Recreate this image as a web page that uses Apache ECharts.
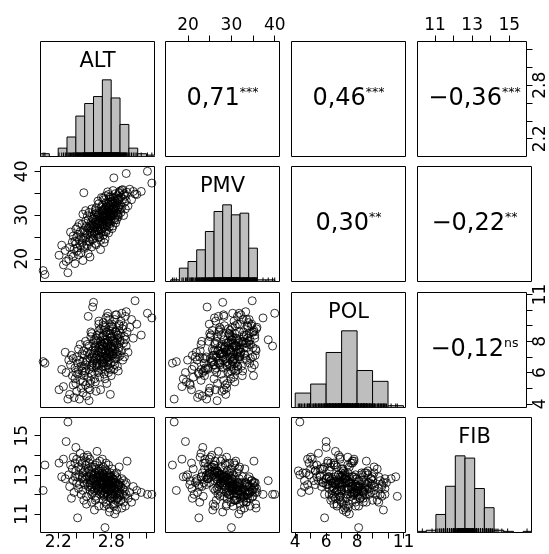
<!DOCTYPE html>
<html>
<head>
<meta charset="utf-8">
<script src="https://cdn.jsdelivr.net/npm/echarts@6.0.0/dist/echarts.min.js"></script>
<style>
html, body { margin: 0; padding: 0; background: #fff; }
#main { width: 549px; height: 554px; }
</style>
</head>
<body>
<div id="main"></div>
<script>
// variables (one observation per index)
let varNames = ['ALT', 'PMV', 'POL', 'FIB'];

let alt = [
    2.03, 2.05, 2.21, 2.24, 2.26, 2.28, 2.29, 2.31, 2.32, 2.33,
    2.34, 2.35, 2.36, 2.37, 2.37, 2.38, 2.39, 2.39, 2.40, 2.40,
    2.41, 2.41, 2.42, 2.42, 2.43, 2.43, 2.44, 2.44, 2.45, 2.45,
    2.46, 2.46, 2.47, 2.47, 2.48, 2.48, 2.49, 2.49, 2.49, 2.48,
    2.50, 2.50, 2.51, 2.51, 2.52, 2.52, 2.53, 2.53, 2.54, 2.54,
    2.55, 2.55, 2.56, 2.56, 2.57, 2.57, 2.58, 2.58, 2.58, 2.59,
    2.59, 2.55, 2.53, 2.51, 2.56, 2.57, 2.52, 2.59, 2.54, 2.60,
    2.60, 2.61, 2.61, 2.62, 2.62, 2.63, 2.63, 2.64, 2.64, 2.65,
    2.65, 2.66, 2.66, 2.67, 2.67, 2.68, 2.68, 2.69, 2.69, 2.60,
    2.61, 2.62, 2.63, 2.64, 2.65, 2.66, 2.67, 2.68, 2.69, 2.66,
    2.63, 2.68, 2.70, 2.70, 2.70, 2.71, 2.71, 2.71, 2.72, 2.72,
    2.72, 2.73, 2.73, 2.73, 2.74, 2.74, 2.74, 2.75, 2.75, 2.75,
    2.76, 2.76, 2.76, 2.77, 2.77, 2.77, 2.78, 2.78, 2.78, 2.79,
    2.79, 2.79, 2.70, 2.71, 2.72, 2.73, 2.74, 2.75, 2.76, 2.77,
    2.78, 2.79, 2.75, 2.72, 2.80, 2.80, 2.80, 2.81, 2.81, 2.82,
    2.82, 2.83, 2.83, 2.84, 2.84, 2.85, 2.85, 2.86, 2.86, 2.87,
    2.87, 2.88, 2.88, 2.89, 2.89, 2.80, 2.81, 2.82, 2.83, 2.84,
    2.85, 2.86, 2.87, 2.88, 2.89, 2.84, 2.90, 2.90, 2.91, 2.91,
    2.92, 2.92, 2.93, 2.93, 2.94, 2.94, 2.95, 2.95, 2.96, 2.96,
    2.97, 2.97, 2.98, 2.99, 3.01, 3.03, 3.05, 3.07, 3.09, 3.14,
    3.21, 3.26,
    2.56, 2.58, 2.60, 2.61, 2.62, 2.63, 2.64, 2.65, 2.66, 2.67,
    2.68, 2.69, 2.70, 2.70, 2.71, 2.71, 2.72, 2.73, 2.73, 2.74,
    2.74, 2.75, 2.75, 2.76, 2.76, 2.77, 2.77, 2.78, 2.78, 2.79,
    2.79, 2.80, 2.80, 2.81, 2.82, 2.82, 2.83, 2.84, 2.85, 2.86,
    2.87, 2.88, 2.89, 2.90, 2.62, 2.66, 2.72, 2.78, 2.84, 2.58
];
let pmv = [
    17.3, 16.4, 20.8, 23.1, 18.6, 21.9, 19.4, 16.8, 19.9, 22.6,
    26.1, 21.0, 23.8, 20.5, 25.2, 22.2, 24.0, 18.9, 23.4, 26.8,
    21.7, 24.9, 27.3, 22.5, 25.6, 20.9, 24.3, 28.1, 23.0, 26.2,
    21.4, 25.0, 27.9, 23.6, 30.2, 24.8, 35.1, 22.8, 26.5, 19.6,
    26.0, 22.4, 28.6, 24.7, 27.4, 23.3, 29.8, 25.5, 21.2, 27.0,
    24.1, 30.6, 26.3, 23.9, 28.2, 25.1, 31.4, 22.7, 27.7, 24.4,
    29.1, 26.7, 23.0, 31.0, 20.4, 27.1, 25.8, 26.9, 28.9, 27.3,
    24.6, 30.1, 26.0, 28.4, 23.5, 31.7, 27.8, 25.3, 29.6, 33.2,
    26.6, 28.8, 24.9, 30.5, 27.5, 22.1, 29.3, 26.2, 31.9, 28.0,
    25.7, 30.8, 23.2, 27.0, 29.9, 32.6, 25.0, 28.3, 34.0, 26.4,
    29.0, 24.2, 29.4, 26.8, 32.3, 28.1, 30.9, 25.4, 33.5, 29.7,
    27.2, 31.2, 24.5, 30.0, 28.6, 34.4, 26.1, 32.0, 29.0, 27.6,
    30.7, 35.3, 28.3, 25.9, 31.6, 29.2, 33.0, 27.3, 30.4, 33.6,
    28.7, 31.1, 27.9, 33.9, 23.7, 29.9, 32.8, 26.5, 30.3, 34.7,
    28.0, 29.5, 31.8, 30.6, 31.0, 28.4, 34.2, 30.2, 33.1, 27.5,
    35.6, 31.5, 38.5, 29.3, 32.7, 30.8, 34.9, 28.9, 32.2, 34.4,
    30.1, 33.4, 29.6, 31.9, 35.0, 32.5, 26.9, 33.8, 30.4, 34.0,
    28.2, 31.3, 33.7, 30.0, 35.2, 31.7, 32.4, 35.5, 30.6, 34.1,
    35.7, 31.8, 33.6, 35.8, 29.9, 34.6, 32.9, 34.9, 31.4, 34.3,
    39.5, 33.3, 35.2, 32.1, 35.9, 33.5, 35.4, 34.8, 34.7, 35.4,
    40.0, 37.3,
    27.6, 25.9, 29.2, 27.1, 26.3, 30.4, 28.1, 27.8, 30.2, 28.6,
    26.7, 29.8, 31.0, 28.5, 29.6, 27.4, 31.4, 28.8, 30.2, 29.4,
    31.5, 28.2, 30.1, 32.6, 29.0, 30.8, 28.4, 31.9, 29.7, 32.2,
    30.5, 29.8, 33.0, 31.4, 30.0, 32.8, 31.2, 33.3, 31.9, 30.4,
    32.9, 31.6, 33.7, 31.2, 31.2, 25.6, 26.2, 34.1, 28.9, 29.5
];
let pol = [
    6.7, 6.6, 4.9, 6.2, 5.1, 7.3, 6.0, 4.3, 6.8, 4.6,
    6.5, 7.1, 5.8, 5.2, 6.9, 4.4, 6.3, 5.6, 6.0, 5.3,
    7.0, 4.8, 6.6, 5.9, 7.5, 6.2, 4.3, 6.8, 5.5, 7.8,
    6.4, 5.0, 7.2, 6.1, 6.7, 4.7, 5.8, 7.4, 6.3, 5.4,
    7.1, 6.0, 5.2, 8.0, 6.5, 4.5, 7.3, 6.8, 5.7, 9.6,
    6.2, 7.7, 4.9, 6.9, 5.5, 8.3, 6.4, 7.0, 5.9, 10.2,
    6.6, 4.2, 7.8, 6.1, 5.3, 8.6, 6.7, 7.4, 5.0, 7.2,
    6.3, 8.1, 5.6, 7.6, 6.9, 7.0, 4.8, 8.4, 6.5, 7.9,
    6.0, 7.3, 9.1, 5.7, 7.7, 6.8, 8.8, 6.2, 7.5, 10.5,
    7.1, 5.4, 8.0, 6.6, 7.4, 6.1, 8.5, 4.9, 7.8, 9.3,
    6.4, 7.0, 7.5, 8.3, 6.4, 7.0, 9.0, 6.7, 7.9, 5.9,
    8.7, 7.3, 6.2, 8.1, 7.6, 6.9, 9.5, 7.1, 5.3, 8.4,
    7.7, 6.5, 9.6, 7.4, 8.0, 6.0, 7.2, 8.9, 6.8, 7.6,
    4.6, 8.2, 7.8, 9.2, 6.6, 5.6, 8.6, 7.0, 9.8, 6.3,
    7.3, 8.5, 7.9, 6.9, 7.7, 9.0, 6.6, 8.3, 7.1, 8.8,
    7.5, 6.2, 8.1, 7.9, 9.4, 6.9, 8.6, 7.3, 9.7, 7.8,
    6.4, 8.4, 7.0, 9.1, 7.6, 5.8, 7.4, 8.9, 6.7, 8.0,
    9.7, 7.2, 8.2, 6.1, 8.7, 7.5, 8.0, 7.1, 9.3, 8.5,
    7.4, 9.8, 6.8, 8.8, 7.9, 9.0, 8.3, 7.0, 9.6, 8.1,
    7.7, 9.9, 8.6, 7.3, 8.9, 9.4, 8.2, 10.6, 9.1, 8.4,
    9.8, 9.5,
    7.2, 6.5, 7.9, 6.8, 7.4, 8.2, 6.3, 7.1, 7.6, 6.9,
    8.0, 7.3, 6.6, 7.7, 8.4, 7.2, 6.8, 7.9, 8.9, 7.4,
    6.4, 8.1, 7.0, 7.8, 6.7, 8.5, 7.5, 7.0, 8.7, 7.3,
    6.2, 8.3, 7.6, 9.1, 7.2, 8.0, 7.7, 6.9, 8.6, 7.9,
    8.4, 7.4, 9.0, 8.1, 7.7, 8.7, 7.9, 9.4, 6.5, 8.5
];
let fib = [
    12.2, 13.5, 13.6, 12.9, 13.8, 12.8, 14.7, 15.7, 13.0, 12.4,
    13.5, 11.8, 13.3, 12.7, 13.9, 12.1, 13.6, 12.9, 14.4, 13.2,
    12.6, 13.8, 12.9, 10.8, 13.4, 12.3, 13.0, 12.5, 14.1, 13.7,
    12.0, 13.3, 12.8, 13.6, 12.2, 13.1, 12.6, 13.9, 11.7, 12.9,
    13.2, 12.5, 13.5, 12.8, 11.9, 13.1, 12.6, 14.0, 13.3, 12.4,
    12.9, 13.6, 12.2, 13.8, 12.7, 13.0, 12.4, 11.6, 13.4, 12.8,
    12.1, 13.2, 12.9, 13.7, 12.5, 13.1, 11.5, 12.7, 13.9, 12.8,
    13.4, 12.3, 13.0, 12.6, 11.9, 13.3, 12.5, 12.9, 13.6, 12.2,
    12.8, 11.4, 13.1, 12.4, 13.7, 12.7, 12.0, 13.2, 12.6, 12.9,
    11.2, 13.5, 12.4, 14.2, 12.3, 12.9, 12.6, 13.0, 12.1, 13.3,
    11.8, 12.5, 12.6, 13.1, 12.2, 12.9, 11.7, 13.4, 12.5, 12.0,
    13.0, 12.3, 12.8, 10.3, 13.6, 12.4, 12.7, 11.5, 13.2, 12.1,
    12.9, 12.6, 11.9, 13.5, 12.2, 12.8, 11.3, 12.5, 13.0, 12.4,
    12.7, 11.8, 13.8, 12.0, 12.6, 13.3, 11.6, 12.9, 12.3, 12.7,
    11.1, 13.1, 12.5, 11.9, 12.4, 12.9, 11.8, 12.2, 13.3, 12.6,
    11.5, 12.0, 12.7, 13.0, 12.3, 11.7, 12.5, 12.9, 11.2, 12.1,
    12.8, 11.6, 12.4, 13.4, 11.9, 12.6, 12.0, 12.8, 11.4, 12.2,
    12.6, 13.1, 11.8, 12.5, 12.3, 11.0, 12.1, 12.6, 11.7, 12.4,
    11.3, 12.8, 12.0, 12.3, 11.6, 12.7, 11.9, 12.2, 12.5, 11.4,
    12.0, 12.6, 13.7, 11.8, 12.1, 11.6, 12.4, 11.9, 12.2, 12.1,
    12.0, 12.0,
    12.6, 12.3, 12.8, 12.2, 13.1, 12.5, 12.7, 13.0, 12.4, 12.9,
    12.3, 12.7, 12.5, 12.9, 12.2, 13.0, 12.6, 12.1, 12.8, 12.3,
    12.6, 12.4, 13.1, 12.0, 12.7, 12.3, 12.9, 12.2, 12.6, 12.0,
    12.5, 12.7, 12.1, 12.4, 12.8, 11.9, 12.3, 12.6, 12.0, 12.4,
    11.8, 12.2, 12.5, 12.0, 11.7, 13.2, 11.4, 12.9, 11.5, 12.0
];

// histograms on the diagonal (bin edges and counts)
let altBreaks = [2.0, 2.1, 2.2, 2.3, 2.4, 2.5, 2.6, 2.7, 2.8, 2.9, 3.0, 3.1, 3.2, 3.3];
let altCounts = [2, 0, 6, 14, 29, 38, 43, 55, 42, 23, 6, 2, 1];
let pmvBreaks = [16, 18, 20, 22, 24, 26, 28, 30, 32, 34, 36, 38, 40];
let pmvCounts = [1, 8, 12, 19, 30, 42, 46, 40, 41, 20, 1, 1];
let polBreaks = [4, 5, 6, 7, 8, 9, 10, 11];
let polCounts = [16, 26, 61, 85, 41, 29, 2];
let fibBreaks = [10, 10.5, 11, 11.5, 12, 12.5, 13, 13.5, 14, 14.5, 15, 15.5, 16];
let fibCounts = [1, 2, 16, 41, 68, 66, 39, 22, 2, 1, 0, 1];

// correlations, upper panels row by row
let corValues = ['0,71', '0,46', '\u22120,36', '0,30', '\u22120,22', '\u22120,12'];
let corStars = ['***', '***', '***', '**', '**', 'ns'];

// axis ranges, ticks and labels
let altRange = [2.0, 3.29];
let pmvRange = [14.8, 41.1];
let polRange = [3.76, 11.13];
let fibRange = [10.05, 15.93];
let altTicks = [2.2, 2.4, 2.6, 2.8, 3.0, 3.2];
let altLabels = [2.2, 2.8];
let pmvTicks = [20, 25, 30, 35, 40];
let pmvLabels = [20, 30, 40];
let polTicks = [4, 5, 6, 7, 8, 9, 10, 11];
let polLabels = [4, 6, 8, 11];
let fibTicks = [11, 12, 13, 14, 15];
let fibLabels = [11, 13, 15];

let values = [alt, pmv, pol, fib];
let ranges = [altRange, pmvRange, polRange, fibRange];
let ticks = [altTicks, pmvTicks, polTicks, fibTicks];
let labels = [altLabels, pmvLabels, polLabels, fibLabels];
let breaks = [altBreaks, pmvBreaks, polBreaks, fibBreaks];
let counts = [altCounts, pmvCounts, polCounts, fibCounts];

let fontFamily = '"DejaVu Sans", sans-serif';
let colLeft = [40.5, 165.5, 291.5, 417.5];
let rowTop = [41.5, 166.5, 292.5, 417.5];
let panelW = 114;
let panelH = 115;

function hiddenAxis(k, range) {
    return {
        gridIndex: k,
        type: 'value',
        min: range[0],
        max: range[1],
        axisLine: { show: false, onZero: false },
        axisTick: { show: false },
        axisLabel: { show: false },
        splitLine: { show: false }
    };
}

function showAxis(ax, v, position, vertical, margin) {
    ax.position = position;
    ax.axisTick = {
        show: true,
        customValues: ticks[v],
        length: 6,
        lineStyle: { color: '#000', width: 1 }
    };
    ax.axisLabel = {
        show: true,
        customValues: labels[v],
        margin: margin,
        rotate: vertical ? 90 : 0,
        color: '#000',
        fontSize: 17,
        fontFamily: fontFamily,
        formatter: (val) => String(val)
    };
    return ax;
}

let grids = [];
let xAxes = [];
let yAxes = [];
let series = [];
let graphics = [];
let c = 0;

for (let i = 0; i < 4; i++) {
    for (let j = 0; j < 4; j++) {
        let k = i * 4 + j;
        grids.push({
            left: colLeft[j],
            top: rowTop[i],
            width: panelW,
            height: panelH,
            show: true,
            borderColor: '#000',
            borderWidth: 1,
            backgroundColor: 'transparent'
        });

        let xa = hiddenAxis(k, ranges[j]);
        if (i === 0 && j % 2 === 1) showAxis(xa, j, 'top', false, 7.5);
        if (i === 3 && j % 2 === 0) showAxis(xa, j, 'bottom', false, 2);
        xAxes.push(xa);

        let ya = hiddenAxis(k, i === j ? [0, 1.5] : ranges[i]);
        if (j === 0 && i % 2 === 1) showAxis(ya, i, 'left', true, 9);
        if (j === 3 && i % 2 === 0) showAxis(ya, i, 'right', true, 5.5);
        yAxes.push(ya);

        let cx = colLeft[j] + panelW / 2;
        let cy = rowTop[i] + panelH / 2;

        if (i === j) {
            // histogram
            let maxCount = Math.max(...counts[i]);
            let bars = counts[i].map((n, b) => [breaks[i][b], breaks[i][b + 1], n / maxCount]);
            series.push({
                type: 'custom',
                xAxisIndex: k,
                yAxisIndex: k,
                clip: true,
                silent: true,
                data: bars,
                encode: { x: [0, 1], y: 2 },
                renderItem: (params, api) => {
                    let p0 = api.coord([api.value(0), api.value(2)]);
                    let p1 = api.coord([api.value(1), 0]);
                    return {
                        type: 'rect',
                        shape: { x: p0[0], y: p0[1], width: p1[0] - p0[0], height: p1[1] - p0[1] },
                        style: { fill: '#bebebe', stroke: '#000', lineWidth: 1 }
                    };
                }
            });
            // rug
            series.push({
                type: 'custom',
                xAxisIndex: k,
                yAxisIndex: k,
                clip: true,
                silent: true,
                data: values[i].map((v) => [v]),
                encode: { x: 0 },
                renderItem: (params, api) => {
                    let p = api.coord([api.value(0), 0]);
                    return {
                        type: 'line',
                        shape: { x1: p[0], y1: p[1], x2: p[0], y2: p[1] - 4 },
                        style: { stroke: '#000', lineWidth: 1 }
                    };
                }
            });
            graphics.push({
                type: 'text',
                x: cx,
                y: rowTop[i] + 20,
                style: {
                    text: varNames[i],
                    fontSize: 21,
                    fontFamily: fontFamily,
                    fill: '#000',
                    align: 'center',
                    verticalAlign: 'middle'
                }
            });
        } else if (i > j) {
            series.push({
                type: 'scatter',
                xAxisIndex: k,
                yAxisIndex: k,
                silent: true,
                symbol: 'circle',
                symbolSize: 8,
                data: values[j].map((v, n) => [v, values[i][n]]),
                itemStyle: { color: 'rgba(0,0,0,0)', borderColor: '#000', borderWidth: 1 }
            });
        } else {
            graphics.push({
                type: 'text',
                x: cx,
                y: cy,
                style: {
                    text: '{n|' + corValues[c] + '}{s|' + corStars[c] + '}',
                    align: 'center',
                    verticalAlign: 'middle',
                    fill: '#000',
                    rich: {
                        n: { fontSize: 24, fontFamily: fontFamily, lineHeight: 26, fill: '#000', verticalAlign: 'middle' },
                        s: { fontSize: 12.5, fontFamily: fontFamily, lineHeight: 14, fill: '#000', verticalAlign: 'top' }
                    }
                }
            });
            c++;
        }
    }
}

let chart = echarts.init(document.getElementById('main'));
let option = {
    animation: false,
    backgroundColor: '#fff',
    grid: grids,
    xAxis: xAxes,
    yAxis: yAxes,
    series: series,
    graphic: graphics
};
chart.setOption(option);
</script>
</body>
</html>
